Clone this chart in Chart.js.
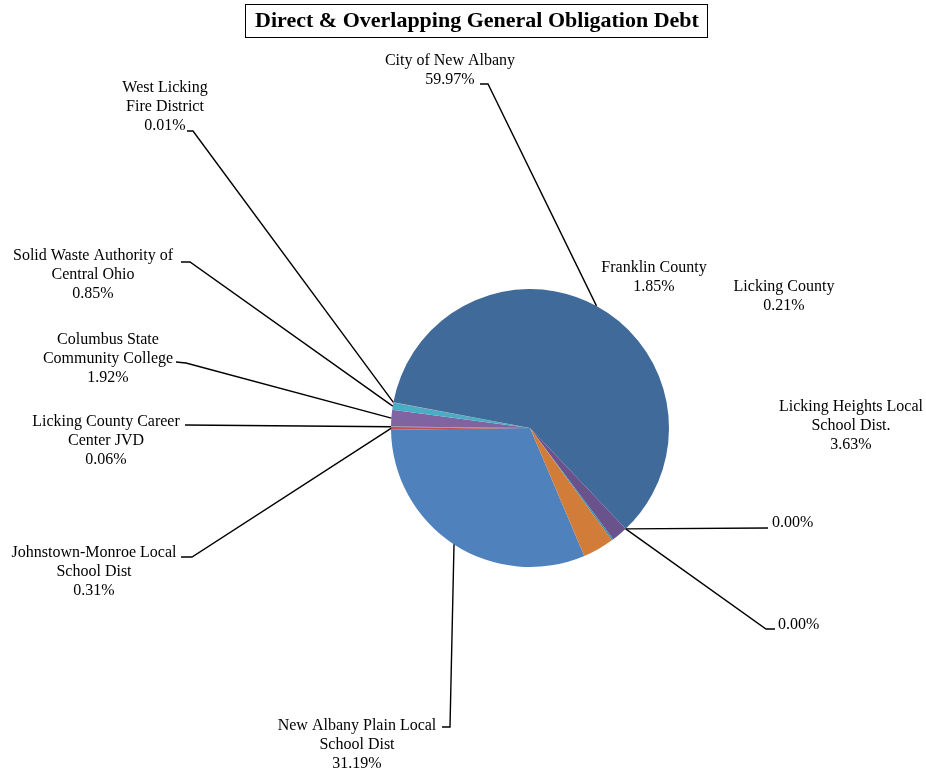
<!DOCTYPE html>
<html>
<head>
<meta charset="utf-8">
<script src="https://cdn.jsdelivr.net/npm/chart.js@4.4.1/dist/chart.umd.min.js"></script>
<style>
body{margin:0;background:#fff;}
#wrap{width:926px;height:773px;}
</style>
</head>
<body>
<div id="wrap"><canvas id="debtPie"></canvas></div>
<script>
// slices in drawing order (clockwise, like the excel sheet)
var categories = [
    ["New Albany Plain Local", "School Dist"],
    ["Johnstown-Monroe Local", "School Dist"],
    ["Licking County Career", "Center JVD"],
    ["Columbus State", "Community College"],
    ["Solid Waste Authority of", "Central Ohio"],
    ["West Licking", "Fire District"],
    ["City of New Albany"],
    [],
    [],
    ["Franklin County"],
    ["Licking County"],
    ["Licking Heights Local", "School Dist."]
];
var shares = [31.19, 0.31, 0.06, 1.92, 0.85, 0.01, 59.97, 0.00, 0.00, 1.85, 0.21, 3.63];
var sliceColors = ['#4F81BD', '#C0504D', '#9BBB59', '#8064A2', '#4BACC6', '#F79646',
                   '#3F6A9A', '#953B39', '#76923C', '#6A528C', '#3A8DA5', '#D27C3A'];

// where each label sits (text centre, first line) and the leader elbow points
var labelPos = [
    {x: 357, y: 726, line: [[442, 727], [450, 727]]},
    {x: 94,  y: 553, line: [[181, 557], [192, 557]]},
    {x: 106, y: 422, line: [[185, 425]]},
    {x: 108, y: 340, line: [[176, 362], [186, 363]]},
    {x: 93,  y: 256, line: [[181, 262], [190, 262]]},
    {x: 165, y: 88,  line: [[187, 131], [193, 131]]},
    {x: 450, y: 61,  line: [[480, 84], [488, 84]]},
    {x: 772, y: 523, align: 'left', line: [[768, 528]]},
    {x: 778, y: 625, align: 'left', line: [[775, 629], [766, 629]]},
    {x: 654, y: 268, line: null},
    {x: 784, y: 287, line: null},
    {x: 851, y: 407, line: null}
];

var labelPlugin = {
    id: 'labelPlugin',
    afterDraw: function(chart) {
        var ctx = chart.ctx;
        var arcs = chart.getDatasetMeta(0).data;
        ctx.save();

        // title with its box
        ctx.font = 'bold 22px "Liberation Serif"';
        ctx.fillStyle = '#000';
        ctx.textAlign = 'center';
        ctx.textBaseline = 'middle';
        ctx.fillText('Direct & Overlapping General Obligation Debt', 477, 21);
        ctx.strokeStyle = '#000';
        ctx.lineWidth = 1;
        ctx.strokeRect(245.5, 4.5, 462, 33);

        ctx.font = '16px "Liberation Serif"';
        ctx.lineWidth = 1.4;
        arcs.forEach(function(arc, i) {
            var p = labelPos[i];
            var lines = categories[i].concat([shares[i].toFixed(2) + '%']);
            ctx.textAlign = p.align || 'center';
            lines.forEach(function(t, k) {
                ctx.fillText(t, p.x, p.y + k * 18.7);
            });
            if (!p.line) return;
            var mid = (arc.startAngle + arc.endAngle) / 2;
            var ax = arc.x + arc.outerRadius * Math.cos(mid);
            var ay = arc.y + arc.outerRadius * Math.sin(mid);
            ctx.beginPath();
            ctx.moveTo(p.line[0][0], p.line[0][1]);
            for (var k = 1; k < p.line.length; k++) ctx.lineTo(p.line[k][0], p.line[k][1]);
            ctx.lineTo(ax, ay);
            ctx.stroke();
        });
        ctx.restore();
    }
};

var ctx = document.getElementById('debtPie').getContext('2d');
var debtPie = new Chart(ctx, {
    type: 'pie',
    data: {
        labels: categories.map(function(c) { return c.join(' '); }),
        datasets: [{
            data: shares,
            backgroundColor: sliceColors,
            borderWidth: 0
        }]
    },
    options: {
        responsive: true,
        maintainAspectRatio: false,
        animation: false,
        rotation: 157,
        layout: {padding: {left: 391, right: 257, top: 289, bottom: 206}},
        plugins: {
            legend: {display: false},
            tooltip: {enabled: false},
            title: {display: false}
        }
    },
    plugins: [labelPlugin]
});
</script>
</body>
</html>
